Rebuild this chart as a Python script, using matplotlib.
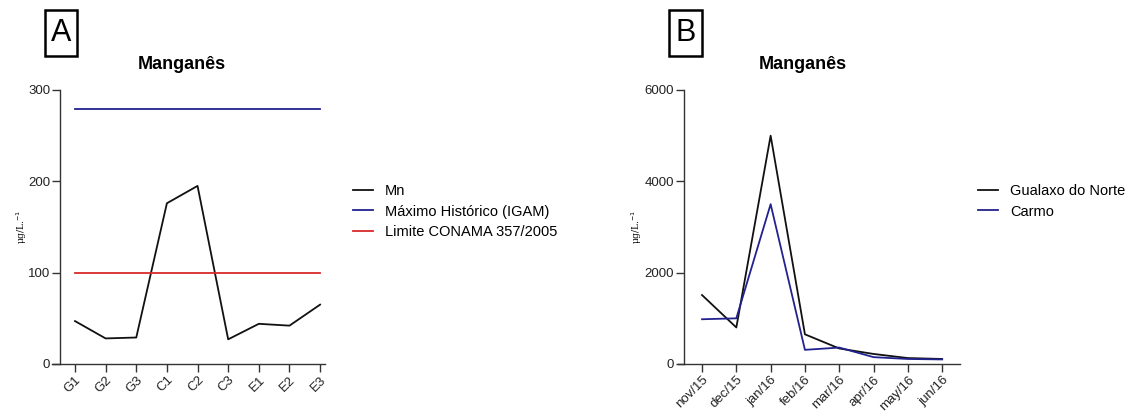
import matplotlib
matplotlib.use("Agg")
import matplotlib.pyplot as plt
from matplotlib.patches import Rectangle

plt.rcParams['font.family'] = ['Liberation Sans', 'DejaVu Sans']

# ---- Data panel A ----
sites = ["G1", "G2", "G3", "C1", "C2", "C3", "E1", "E2", "E3"]
mn_values = [47, 28, 29, 176, 195, 27, 44, 42, 65]
max_historico = 279
limite_conama = 100
yticks_a = [0, 100, 200, 300]

# ---- Data panel B ----
months = ["nov/15", "dec/15", "jan/16", "feb/16", "mar/16", "apr/16", "may/16", "jun/16"]
gualaxo = [1510, 800, 5000, 650, 340, 220, 130, 110]
carmo = [980, 1000, 3500, 310, 360, 150, 110, 100]
yticks_b = [0, 2000, 4000, 6000]

W, H = 1128, 412
fig = plt.figure(figsize=(W / 100, H / 100), dpi=100)

BLACK = "#111111"
BLUE = "#22228f"
RED = "#d92a2a"


def px_axes(x0, y0, x1, y1):
    return fig.add_axes([x0 / W, 1 - y1 / H, (x1 - x0) / W, (y1 - y0) / H])


def style(ax, yaxis_x):
    ax.spines['top'].set_visible(False)
    ax.spines['right'].set_visible(False)
    ax.spines['left'].set_position(('data', yaxis_x))
    for s in ('left', 'bottom'):
        ax.spines[s].set_linewidth(1.0)
        ax.spines[s].set_color('#333333')
    ax.tick_params(axis='both', direction='out', length=5.5, width=1.0,
                   color='#333333', labelsize=9.5, pad=1.5, labelcolor='#222222')
    ax.set_facecolor('none')


LEG_KW = dict(loc='upper left', bbox_transform=fig.transFigure, frameon=False,
              fontsize=10.5, handlelength=1.4, handletextpad=0.8,
              labelspacing=0.45, borderaxespad=0, borderpad=0)

# ---- Panel A ----
axA = px_axes(52, 90, 325, 364)
n = len(sites)
xa = list(range(n))
axA.plot(xa, mn_values, color=BLACK, lw=1.3, label="Mn")
axA.plot([xa[0], xa[-1]], [max_historico, max_historico], color=BLUE, lw=1.3,
         label="Máximo Histórico (IGAM)")
axA.plot([xa[0], xa[-1]], [limite_conama, limite_conama], color=RED, lw=1.3,
         label="Limite CONAMA 357/2005")
axA.set_xlim(-0.75, 8.16)
axA.set_ylim(0, 300)
axA.set_yticks(yticks_a)
axA.set_xticks(xa)
axA.set_xticklabels(sites, rotation=45, ha='right', rotation_mode='anchor')
style(axA, -0.49)
axA.set_ylabel("μg/L.$^{-1}$", family='DejaVu Serif', fontsize=6.5)
axA.yaxis.set_label_coords(-0.084, 0.5)
axA.set_title("Manganês", fontsize=13, fontweight='bold', pad=15)
axA.title.set_position((0.476, 1.0))
axA.legend(bbox_to_anchor=(353 / W, 1 - 184 / H), **LEG_KW)

# ---- Panel B ----
axB = px_axes(678, 90, 960, 364)
xb = list(range(len(months)))
axB.plot(xb, gualaxo, color=BLACK, lw=1.3, label="Gualaxo do Norte")
axB.plot(xb, carmo, color=BLUE, lw=1.3, label="Carmo")
axB.set_xlim(-0.70, 7.52)
axB.set_ylim(0, 6000)
axB.set_yticks(yticks_b)
axB.set_xticks(xb)
axB.set_xticklabels(months, rotation=45, ha='right', rotation_mode='anchor')
style(axB, -0.525)
axB.set_ylabel("μg/L.$^{-1}$", family='DejaVu Serif', fontsize=6.5)
axB.yaxis.set_label_coords(-0.119, 0.5)
axB.set_title("Manganês", fontsize=13, fontweight='bold', pad=15)
axB.title.set_position((0.443, 1.0))
axB.legend(bbox_to_anchor=(978 / W, 1 - 184 / H), **LEG_KW)

# ---- Boxed panel letters ----
for letter, x0, x1 in (("A", 45, 77), ("B", 669, 702)):
    fig.patches.append(Rectangle((x0 / W, 1 - 56 / H), (x1 - x0) / W, 46 / H,
                                 transform=fig.transFigure, fill=False,
                                 edgecolor='black', linewidth=1.8))
    fig.text((x0 + x1) / 2 / W, 1 - 33 / H, letter, ha='center', va='center',
             fontsize=22)

fig.savefig("out.png", dpi=100)
